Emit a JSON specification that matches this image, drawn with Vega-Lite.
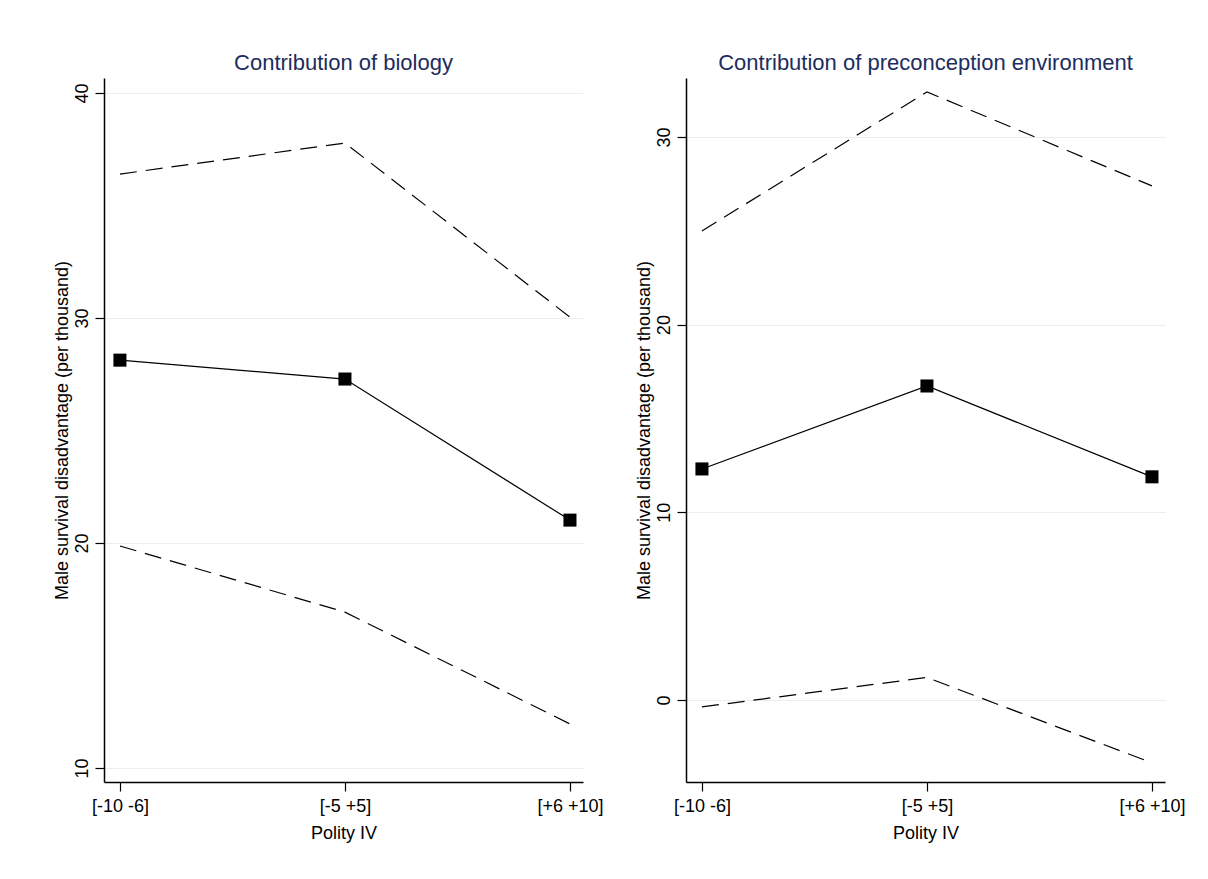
{
  "$schema": "https://vega.github.io/schema/vega-lite/v6.json",
  "background": "white",
  "padding": {"left": 53, "top": 52, "right": 20, "bottom": 20},
  "spacing": 103,
  "bounds": "flush",
  "datasets": {
    "ci": [
      {"panel": "biology", "cat": "[-10 -6]", "est": 28.13, "lo": 19.87, "hi": 36.4},
      {"panel": "biology", "cat": "[-5 +5]", "est": 27.29, "lo": 16.93, "hi": 37.78},
      {"panel": "biology", "cat": "[+6 +10]", "est": 21.02, "lo": 11.96, "hi": 30.04},
      {"panel": "env", "cat": "[-10 -6]", "est": 12.31, "lo": -0.37, "hi": 24.99},
      {"panel": "env", "cat": "[-5 +5]", "est": 16.73, "lo": 1.2, "hi": 32.4},
      {"panel": "env", "cat": "[+6 +10]", "est": 11.89, "lo": -3.35, "hi": 27.39}
    ]
  },
  "config": {
    "view": {"stroke": null},
    "font": "Liberation Sans",
    "title": {"font": "Liberation Sans", "fontSize": 22, "fontWeight": "normal", "color": "#1c2d5e", "anchor": "middle", "offset": 3, "baseline": "alphabetic"},
    "axis": {
      "domainColor": "#000", "domainWidth": 1.5, "tickColor": "#000", "tickWidth": 1.2, "tickSize": 9,
      "labelFont": "Liberation Sans", "labelFontSize": 18, "labelColor": "#000",
      "titleFont": "Liberation Sans", "titleFontSize": 18, "titleFontWeight": "normal", "titleColor": "#000",
      "gridColor": "#e8eef0", "gridWidth": 1
    },
    "axisY": {"labelAngle": -90, "labelAlign": "center", "labelBaseline": "bottom", "labelPadding": 4, "titlePadding": 2, "grid": true},
    "axisX": {"grid": false, "labelAngle": 0, "labelPadding": 6, "titlePadding": 9}
  },
  "hconcat": [
    {
      "title": "Contribution of biology",
      "width": 479, "height": 704,
      "data": {"name": "ci"},
      "transform": [{"filter": "datum.panel === 'biology'"}],
      "encoding": {
        "x": {"field": "cat", "type": "ordinal", "sort": ["[-10 -6]", "[-5 +5]", "[+6 +10]"],
              "scale": {"type": "point", "padding": 0.0644, "align": 0.55},
              "axis": {"title": "Polity IV"}}
      },
      "layer": [
        {"mark": {"type": "line", "strokeDash": [17, 9], "color": "black", "strokeWidth": 1.2},
         "encoding": {"y": {"field": "hi", "type": "quantitative", "scale": {"domain": [9.38, 40.67], "nice": false, "zero": false},
                            "axis": {"title": "Male survival disadvantage (per thousand)", "values": [10, 20, 30, 40]}}}},
        {"mark": {"type": "line", "strokeDash": [17, 9], "color": "black", "strokeWidth": 1.2},
         "encoding": {"y": {"field": "lo", "type": "quantitative", "axis": {"title": "Male survival disadvantage (per thousand)", "values": [10, 20, 30, 40]}}}},
        {"mark": {"type": "line", "color": "black", "strokeWidth": 1.2},
         "encoding": {"y": {"field": "est", "type": "quantitative", "axis": {"title": "Male survival disadvantage (per thousand)", "values": [10, 20, 30, 40]}}}},
        {"mark": {"type": "point", "shape": "square", "filled": true, "color": "black", "size": 170, "opacity": 1},
         "encoding": {"y": {"field": "est", "type": "quantitative", "axis": {"title": "Male survival disadvantage (per thousand)", "values": [10, 20, 30, 40]}}}}
      ]
    },
    {
      "title": "Contribution of preconception environment",
      "width": 479, "height": 704,
      "data": {"name": "ci"},
      "transform": [{"filter": "datum.panel === 'env'"}],
      "encoding": {
        "x": {"field": "cat", "type": "ordinal", "sort": ["[-10 -6]", "[-5 +5]", "[+6 +10]"],
              "scale": {"type": "point", "padding": 0.0644, "align": 0.55},
              "axis": {"title": "Polity IV"}}
      },
      "layer": [
        {"mark": {"type": "line", "strokeDash": [17, 9], "color": "black", "strokeWidth": 1.2},
         "encoding": {"y": {"field": "hi", "type": "quantitative", "scale": {"domain": [-4.37, 33.14], "nice": false, "zero": false},
                            "axis": {"title": "Male survival disadvantage (per thousand)", "values": [0, 10, 20, 30]}}}},
        {"mark": {"type": "line", "strokeDash": [17, 9], "color": "black", "strokeWidth": 1.2},
         "encoding": {"y": {"field": "lo", "type": "quantitative", "axis": {"title": "Male survival disadvantage (per thousand)", "values": [0, 10, 20, 30]}}}},
        {"mark": {"type": "line", "color": "black", "strokeWidth": 1.2},
         "encoding": {"y": {"field": "est", "type": "quantitative", "axis": {"title": "Male survival disadvantage (per thousand)", "values": [0, 10, 20, 30]}}}},
        {"mark": {"type": "point", "shape": "square", "filled": true, "color": "black", "size": 170, "opacity": 1},
         "encoding": {"y": {"field": "est", "type": "quantitative", "axis": {"title": "Male survival disadvantage (per thousand)", "values": [0, 10, 20, 30]}}}}
      ]
    }
  ]
}
